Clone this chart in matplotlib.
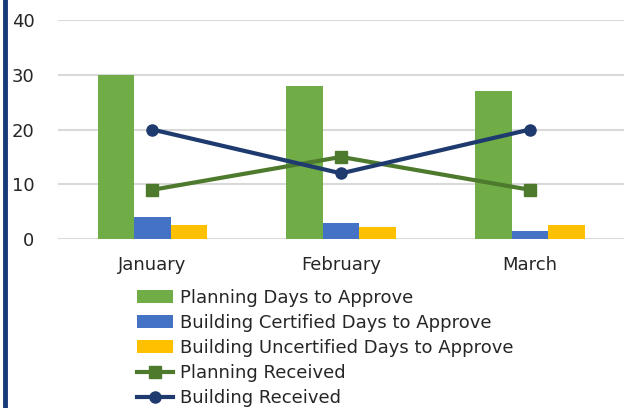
import numpy as np
import matplotlib
matplotlib.use('Agg')
import matplotlib.pyplot as plt
from matplotlib.lines import Line2D

# Data
months = ['January', 'February', 'March']
planning_days = [30, 28, 27]
certified_days = [4, 3, 1.5]
uncertified_days = [2.5, 2.2, 2.6]
planning_received = [9, 15, 9]
building_received = [20, 12, 20]

plt.rcParams['font.family'] = ['DejaVu Sans']

fig = plt.figure(figsize=(6.25, 4.08), dpi=100)
ax = fig.add_axes([0.0928, 0.414, 0.906, 0.537])

x = np.arange(len(months))
w = 0.193

b1 = ax.bar(x - w, planning_days, w, color='#70AD47', label='Planning Days to Approve', zorder=2)
b2 = ax.bar(x, certified_days, w, color='#4472C4', label='Building Certified Days to Approve', zorder=2)
b3 = ax.bar(x + w, uncertified_days, w, color='#FFC000', label='Building Uncertified Days to Approve', zorder=2)
l1, = ax.plot(x, planning_received, color='#4E7A2E', lw=3, marker='s', ms=8,
              label='Planning Received', zorder=3)
l2, = ax.plot(x, building_received, color='#1F3A6E', lw=3, marker='o', ms=8,
              label='Building Received', zorder=4)

ax.set_xlim(-0.5, 2.5)
ax.set_ylim(0, 40)
ax.set_yticks([0, 10, 20, 30, 40])
ax.set_xticks(x)
ax.set_xticklabels(months)
ax.yaxis.grid(True, color='#D9D9D9', lw=1.5, zorder=0)
ax.set_axisbelow(True)
for s in ax.spines.values():
    s.set_visible(False)
ax.tick_params(axis='both', length=0, labelsize=13, colors='#262626')
ax.tick_params(axis='y', pad=17)
ax.tick_params(axis='x', pad=12)

fig.legend(handles=[b1, b2, b3, l1, l2], loc='upper left',
           bbox_to_anchor=(0.205, 0.315), frameon=False,
           fontsize=13, handlelength=2.0, handletextpad=0.35, labelspacing=0.4,
           borderpad=0, labelcolor='#262626')

# dark blue frame edge on the left
fig.add_artist(Line2D([0.0072, 0.0072], [0, 1], transform=fig.transFigure,
                      color='#173A7A', lw=3.5))

fig.savefig('out.png', dpi=100)
